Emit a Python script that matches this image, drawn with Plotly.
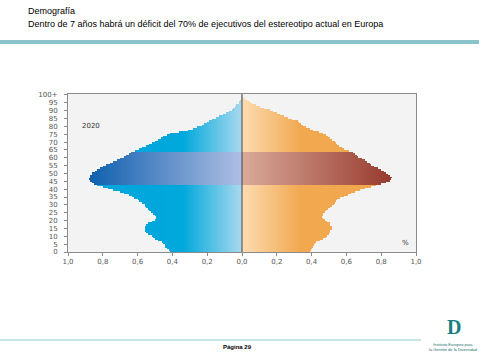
import numpy as np
import plotly.graph_objects as go

# ---- data (share of population, %, by single year of age 0..100+) ----
ages = list(range(0, 101))
male = [0.41, 0.42, 0.43, 0.44, 0.445, 0.45, 0.46, 0.48, 0.50, 0.51,
        0.52, 0.54, 0.55, 0.555, 0.56, 0.56, 0.56, 0.55, 0.54, 0.52,
        0.50, 0.49, 0.49, 0.50, 0.51, 0.525, 0.535, 0.54, 0.55, 0.555,
        0.56, 0.57, 0.59, 0.60, 0.62, 0.63, 0.65, 0.68, 0.70, 0.74,
        0.77, 0.80, 0.83, 0.85, 0.865, 0.875, 0.88, 0.875, 0.87, 0.865,
        0.86, 0.845, 0.83, 0.815, 0.80, 0.78, 0.76, 0.74, 0.72, 0.70,
        0.68, 0.665, 0.65, 0.64, 0.615, 0.59, 0.57, 0.55, 0.53, 0.515,
        0.50, 0.48, 0.465, 0.45, 0.43, 0.41, 0.36, 0.31, 0.28, 0.255,
        0.23, 0.215, 0.205, 0.19, 0.17, 0.15, 0.13, 0.11, 0.09, 0.075,
        0.06, 0.05, 0.04, 0.03, 0.02, 0.015, 0.01, 0.006, 0.004, 0.002, 0.001]
female = [0.39, 0.395, 0.40, 0.41, 0.415, 0.42, 0.43, 0.45, 0.465, 0.48,
          0.49, 0.50, 0.505, 0.51, 0.515, 0.515, 0.515, 0.51, 0.505, 0.49,
          0.475, 0.465, 0.46, 0.465, 0.47, 0.475, 0.485, 0.495, 0.505, 0.52,
          0.53, 0.535, 0.54, 0.545, 0.565, 0.59, 0.61, 0.63, 0.65, 0.68,
          0.71, 0.74, 0.77, 0.80, 0.83, 0.85, 0.855, 0.86, 0.85, 0.84,
          0.83, 0.815, 0.80, 0.78, 0.76, 0.745, 0.735, 0.72, 0.71, 0.69,
          0.67, 0.66, 0.65, 0.64, 0.615, 0.59, 0.575, 0.56, 0.55, 0.54,
          0.535, 0.52, 0.505, 0.495, 0.48, 0.465, 0.44, 0.41, 0.39, 0.37,
          0.35, 0.34, 0.33, 0.32, 0.29, 0.265, 0.245, 0.22, 0.20, 0.18,
          0.16, 0.13, 0.105, 0.08, 0.06, 0.045, 0.03, 0.015, 0.008, 0.004, 0.002]
band_ages = [43, 64]          # highlighted working-age band
year_label = "2020"
x_ticks = [-1.0, -0.8, -0.6, -0.4, -0.2, 0.0, 0.2, 0.4, 0.6, 0.8, 1.0]
x_tick_text = ["1,0", "0,8", "0,6", "0,4", "0,2", "0,0", "0,2", "0,4", "0,6", "0,8", "1,0"]
y_ticks = list(range(0, 101, 5))
y_tick_text = [str(v) for v in range(0, 100, 5)] + ["100+"]

# ---- build gradient matrices ----
step = 0.004
xc = np.arange(-1 + step / 2, 1, step)
m = np.array(male)[:, None]
f = np.array(female)[:, None]
X = np.broadcast_to(xc, (len(ages), len(xc)))
inside = ((X < 0) & (-X <= m)) | ((X >= 0) & (X <= f))
z = np.where(inside, X, np.nan)
a = np.array(ages)[:, None]
in_band = (a >= band_ages[0]) & (a < band_ages[1])
z_main = np.where(in_band, np.nan, z)
z_band = np.where(in_band, z, np.nan)
y_edges = list(range(0, 102))

cs_main = [[0.0, "#00a5dc"], [0.33, "#00a8dc"], [0.5, "#a9d9ed"],
           [0.5, "#fcdcb2"], [0.67, "#f1a84f"], [1.0, "#f0a64c"]]
cs_band = [[0.0, "#0d58a8"], [0.07, "#1262b0"], [0.5, "#afbee3"],
           [0.5, "#d9aa9a"], [0.93, "#983a2e"], [1.0, "#963a2e"]]

fig = go.Figure()
fig.add_trace(go.Heatmap(x=xc, y=y_edges, z=z_main, colorscale=cs_main,
                         zmin=-1, zmax=1, showscale=False, hoverinfo="skip"))
fig.add_trace(go.Heatmap(x=xc, y=y_edges, z=z_band, colorscale=cs_band,
                         zmin=-1, zmax=1, showscale=False, hoverinfo="skip"))

# zero line
fig.add_shape(type="line", xref="x", yref="paper", x0=0, x1=0, y0=0, y1=1,
              line=dict(color="#444444", width=1))

tickfont = dict(family="DejaVu Sans", size=7, color="#555555")
fig.update_xaxes(range=[-1, 1], tickvals=x_ticks, ticktext=x_tick_text,
                 showgrid=False, zeroline=False, showline=True, linecolor="#8a8a8a",
                 linewidth=1, mirror=True, ticks="outside", ticklen=3,
                 tickcolor="#8a8a8a", tickfont=tickfont)
fig.update_yaxes(range=[0, 100.6], tickvals=y_ticks, ticktext=y_tick_text,
                 showgrid=False, zeroline=False, showline=True, linecolor="#8a8a8a",
                 linewidth=1, mirror=True, ticks="outside", ticklen=3,
                 tickcolor="#8a8a8a", tickfont=tickfont, ticklabelstandoff=5)

# plot-area geometry in pixels (for placing page decorations)
L, R, T, B = 68, 416, 94, 252
W, H = R - L, B - T


def px(x):
    return (x - L) / W


def py(y):
    return (B - y) / H


ann = [
    dict(x=-0.87, y=80, xref="x", yref="y", text=year_label, showarrow=False,
         font=dict(family="DejaVu Sans", size=7, color="#333333")),
    dict(x=0.94, y=5.8, xref="x", yref="y", text="%", showarrow=False,
         font=dict(family="DejaVu Sans", size=7, color="#333333")),
    dict(x=px(26), y=py(11), xref="paper", yref="paper", xanchor="left",
         yanchor="middle", text="Demografía", showarrow=False,
         font=dict(family="Liberation Sans", size=9, color="#000000")),
    dict(x=px(26), y=py(24), xref="paper", yref="paper", xanchor="left",
         yanchor="middle",
         text="Dentro de 7 años habrá un déficit del 70% de ejecutivos del estereotipo actual en Europa",
         showarrow=False, font=dict(family="Liberation Sans", size=9, color="#000000")),
    dict(x=px(237), y=py(347), xref="paper", yref="paper", xanchor="center",
         yanchor="middle", text="<b>Página 29</b>", showarrow=False,
         font=dict(family="Liberation Sans", size=6, color="#000000")),
    dict(x=px(454), y=py(327), xref="paper", yref="paper", xanchor="center",
         yanchor="middle", text="<b>D</b>", showarrow=False,
         font=dict(family="Liberation Serif", size=20, color="#1a7f80")),
    dict(x=px(453), y=py(347), xref="paper", yref="paper", xanchor="center",
         yanchor="middle", text="Instituto Europeo para<br>la Gestión de la Diversidad",
         showarrow=False, font=dict(family="Liberation Sans", size=4, color="#1a6f70")),
]
fig.update_layout(annotations=ann)

# header and footer rules
fig.add_shape(type="line", xref="paper", yref="paper", x0=px(0), x1=px(479),
              y0=py(42), y1=py(42), line=dict(color="#8cc3cb", width=4))
fig.add_shape(type="line", xref="paper", yref="paper", x0=px(0), x1=px(421),
              y0=py(340), y1=py(340), line=dict(color="#8ccacd", width=1))

fig.update_layout(width=481, height=361, margin=dict(l=L, r=481 - R, t=T, b=361 - B),
                  paper_bgcolor="#ffffff", plot_bgcolor="#f3f3f3", showlegend=False)
fig.write_html("out.html", config={"displayModeBar": False},
               post_script="document.body.style.margin='0';")
